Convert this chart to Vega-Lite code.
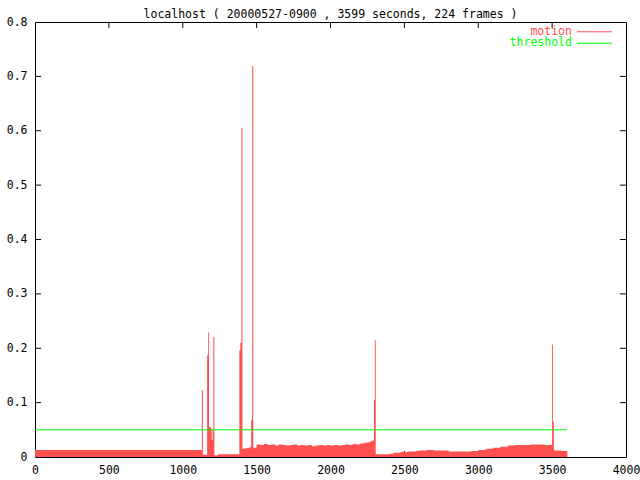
{
  "$schema": "https://vega.github.io/schema/vega-lite/v6.json",
  "width": 591,
  "height": 435,
  "autosize": {"type": "none"},
  "padding": {"left": 35, "top": 22, "right": 14, "bottom": 23},
  "background": "white",
  "title": {
    "text": "localhost ( 20000527-0900 , 3599 seconds, 224 frames )",
    "font": "DejaVu Sans Mono",
    "fontSize": 11.5,
    "fontWeight": "normal",
    "color": "black",
    "offset": -4
  },
  "config": {
    "view": {"stroke": "black", "strokeWidth": 1},
    "axis": {
      "grid": false,
      "domain": false,
      "labelFont": "DejaVu Sans Mono",
      "labelFontSize": 11.5,
      "labelColor": "black",
      "labelFlush": false,
      "labelOverlap": false,
      "title": null
    }
  },
  "datasets": {
    "motion": [
      {"t": 0, "v": 0.0129}, {"t": 250, "v": 0.0129}, {"t": 500, "v": 0.0129}, {"t": 750, "v": 0.0129}, {"t": 1000, "v": 0.0129},
      {"t": 1125, "v": 0.0129}, {"t": 1129, "v": 0.123}, {"t": 1136, "v": 0.004},
      {"t": 1160, "v": 0.004}, {"t": 1165, "v": 0.187}, {"t": 1172, "v": 0.229}, {"t": 1178, "v": 0.055},
      {"t": 1190, "v": 0.052}, {"t": 1196, "v": 0.031}, {"t": 1202, "v": 0.05}, {"t": 1207, "v": 0.221},
      {"t": 1214, "v": 0.003}, {"t": 1239, "v": 0.005}, {"t": 1300, "v": 0.005}, {"t": 1350, "v": 0.005},
      {"t": 1383, "v": 0.196}, {"t": 1390, "v": 0.21}, {"t": 1397, "v": 0.605}, {"t": 1404, "v": 0.015},
      {"t": 1420, "v": 0.016}, {"t": 1440, "v": 0.017}, {"t": 1455, "v": 0.018}, {"t": 1463, "v": 0.068},
      {"t": 1470, "v": 0.719}, {"t": 1477, "v": 0.017},
      {"t": 1500, "v": 0.023}, {"t": 1525, "v": 0.022}, {"t": 1550, "v": 0.024}, {"t": 1575, "v": 0.022},
      {"t": 1600, "v": 0.023}, {"t": 1625, "v": 0.021}, {"t": 1650, "v": 0.023}, {"t": 1675, "v": 0.022},
      {"t": 1700, "v": 0.021}, {"t": 1725, "v": 0.022}, {"t": 1750, "v": 0.023}, {"t": 1775, "v": 0.021},
      {"t": 1800, "v": 0.022}, {"t": 1825, "v": 0.021}, {"t": 1850, "v": 0.022}, {"t": 1875, "v": 0.02},
      {"t": 1900, "v": 0.021}, {"t": 1925, "v": 0.022}, {"t": 1950, "v": 0.021}, {"t": 1975, "v": 0.022},
      {"t": 2000, "v": 0.021}, {"t": 2025, "v": 0.022}, {"t": 2050, "v": 0.021}, {"t": 2075, "v": 0.022},
      {"t": 2100, "v": 0.023}, {"t": 2125, "v": 0.022}, {"t": 2150, "v": 0.024}, {"t": 2175, "v": 0.023},
      {"t": 2200, "v": 0.025}, {"t": 2225, "v": 0.026}, {"t": 2250, "v": 0.027}, {"t": 2270, "v": 0.029},
      {"t": 2285, "v": 0.031}, {"t": 2294, "v": 0.105}, {"t": 2300, "v": 0.215}, {"t": 2306, "v": 0.005},
      {"t": 2350, "v": 0.005}, {"t": 2400, "v": 0.006}, {"t": 2425, "v": 0.008}, {"t": 2475, "v": 0.009},
      {"t": 2525, "v": 0.01}, {"t": 2575, "v": 0.011}, {"t": 2600, "v": 0.012}, {"t": 2650, "v": 0.013},
      {"t": 2700, "v": 0.012}, {"t": 2750, "v": 0.012}, {"t": 2800, "v": 0.01}, {"t": 2850, "v": 0.01},
      {"t": 2900, "v": 0.01}, {"t": 2950, "v": 0.011}, {"t": 3000, "v": 0.013}, {"t": 3050, "v": 0.015},
      {"t": 3100, "v": 0.017}, {"t": 3150, "v": 0.019}, {"t": 3200, "v": 0.021}, {"t": 3250, "v": 0.022},
      {"t": 3300, "v": 0.022}, {"t": 3350, "v": 0.023}, {"t": 3400, "v": 0.023}, {"t": 3450, "v": 0.022},
      {"t": 3490, "v": 0.023}, {"t": 3500, "v": 0.207}, {"t": 3506, "v": 0.065}, {"t": 3512, "v": 0.012},
      {"t": 3560, "v": 0.011}, {"t": 3603, "v": 0.011}
    ],
    "threshold": [{"t": 0, "v": 0.05}, {"t": 3600, "v": 0.05}],
    "xticks": [{"t": 500}, {"t": 1000}, {"t": 1500}, {"t": 2000}, {"t": 2500}, {"t": 3000}, {"t": 3500}],
    "yticks": [{"v": 0.1}, {"v": 0.2}, {"v": 0.3}, {"v": 0.4}, {"v": 0.5}, {"v": 0.6}, {"v": 0.7}],
    "keyMotion": [{"label": "motion"}],
    "keyThreshold": [{"label": "threshold"}]
  },
  "layer": [
    {
      "data": {"name": "xticks"},
      "mark": {"type": "rule", "color": "black", "strokeWidth": 1},
      "encoding": {"x": {"field": "t", "type": "quantitative", "axis": null}, "y": {"datum": 0, "type": "quantitative", "axis": null}, "y2": {"datum": 0.011}}
    },
    {
      "data": {"name": "motion"},
      "mark": {"type": "area", "interpolate": "step-after", "color": "#ff5050"},
      "encoding": {
        "x": {
          "field": "t", "type": "quantitative",
          "scale": {"domain": [0, 4000], "nice": false, "zero": false},
          "axis": {"orient": "bottom", "values": [0, 500, 1000, 1500, 2000, 2500, 3000, 3500, 4000], "format": "d", "ticks": false, "labelPadding": 7}
        },
        "y": {
          "field": "v", "type": "quantitative",
          "scale": {"domain": [0, 0.8], "nice": false},
          "axis": {"orient": "left", "values": [0, 0.1, 0.2, 0.3, 0.4, 0.5, 0.6, 0.7, 0.8], "format": "~g", "ticks": false, "labelPadding": 8}
        }
      }
    },
    {
      "data": {"name": "xticks"},
      "mark": {"type": "rule", "color": "black", "strokeWidth": 1},
      "encoding": {"x": {"field": "t", "type": "quantitative", "axis": null}, "y": {"datum": 0.789, "type": "quantitative", "axis": null}, "y2": {"datum": 0.8}}
    },
    {
      "data": {"name": "yticks"},
      "mark": {"type": "rule", "color": "black", "strokeWidth": 1},
      "encoding": {"y": {"field": "v", "type": "quantitative", "axis": null}, "x": {"datum": 0, "type": "quantitative", "axis": null}, "x2": {"datum": 41}}
    },
    {
      "data": {"name": "yticks"},
      "mark": {"type": "rule", "color": "black", "strokeWidth": 1},
      "encoding": {"y": {"field": "v", "type": "quantitative", "axis": null}, "x": {"datum": 3959, "type": "quantitative", "axis": null}, "x2": {"datum": 4000}}
    },
    {
      "data": {"name": "threshold"},
      "mark": {"type": "line", "color": "#00ff00", "strokeWidth": 1},
      "encoding": {
        "x": {"field": "t", "type": "quantitative", "axis": null},
        "y": {"field": "v", "type": "quantitative", "axis": null}
      }
    },
    {
      "data": {"name": "keyMotion"},
      "mark": {"type": "text", "align": "right", "baseline": "middle", "font": "DejaVu Sans Mono", "fontSize": 11.5, "color": "#ff5050"},
      "encoding": {"text": {"field": "label"}, "x": {"datum": 3634, "type": "quantitative", "axis": null}, "y": {"datum": 0.782, "type": "quantitative", "axis": null}}
    },
    {
      "data": {"name": "keyThreshold"},
      "mark": {"type": "text", "align": "right", "baseline": "middle", "font": "DejaVu Sans Mono", "fontSize": 11.5, "color": "#00ff00"},
      "encoding": {"text": {"field": "label"}, "x": {"datum": 3634, "type": "quantitative", "axis": null}, "y": {"datum": 0.761, "type": "quantitative", "axis": null}}
    },
    {
      "data": {"name": "keyMotion"},
      "mark": {"type": "rule", "color": "#ff5050", "strokeWidth": 1},
      "encoding": {"x": {"datum": 3668, "type": "quantitative", "axis": null}, "x2": {"datum": 3905}, "y": {"datum": 0.782, "type": "quantitative", "axis": null}}
    },
    {
      "data": {"name": "keyThreshold"},
      "mark": {"type": "rule", "color": "#00ff00", "strokeWidth": 1},
      "encoding": {"x": {"datum": 3668, "type": "quantitative", "axis": null}, "x2": {"datum": 3905}, "y": {"datum": 0.761, "type": "quantitative", "axis": null}}
    }
  ],
  "resolve": {"axis": {"x": "independent", "y": "independent"}}
}
